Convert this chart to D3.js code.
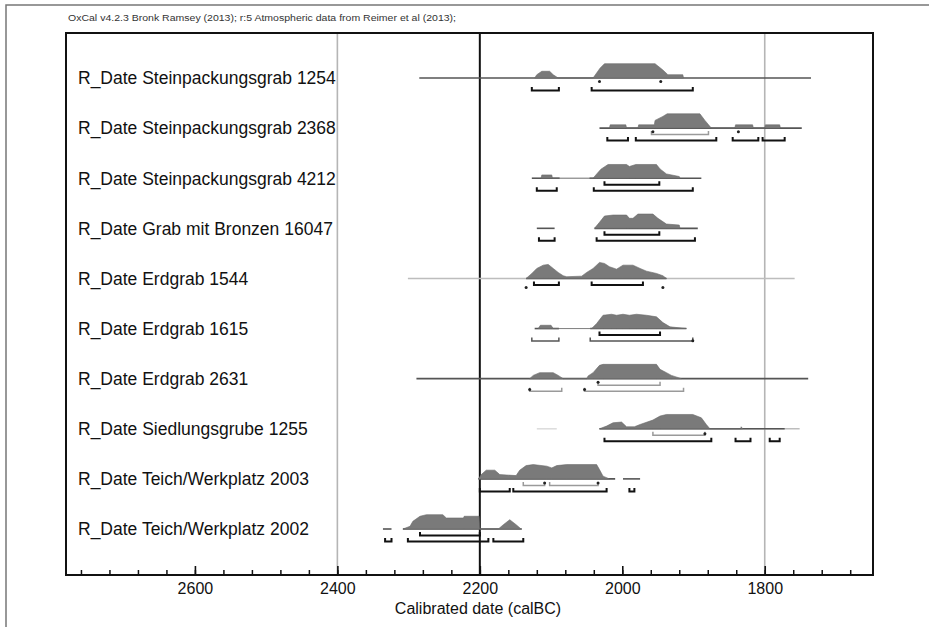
<!DOCTYPE html>
<html><head><meta charset="utf-8">
<script src="https://cdn.jsdelivr.net/npm/d3@7"></script>
<style>
html,body{margin:0;padding:0;background:#fff;}
svg{display:block;font-family:"Liberation Sans",Arial,sans-serif;}
</style></head>
<body>
<svg id="chart" width="929" height="627"></svg>
<script>
// ---------- data ----------
const titleText = "OxCal v4.2.3 Bronk Ramsey (2013); r:5 Atmospheric data from Reimer et al (2013);";
const axisTitle = "Calibrated date (calBC)";
const labels = [
  "R_Date Steinpackungsgrab 1254",
  "R_Date Steinpackungsgrab 2368",
  "R_Date Steinpackungsgrab 4212",
  "R_Date Grab mit Bronzen 16047",
  "R_Date Erdgrab 1544",
  "R_Date Erdgrab 1615",
  "R_Date Erdgrab 2631",
  "R_Date Siedlungsgrube 1255",
  "R_Date Teich/Werkplatz 2003",
  "R_Date Teich/Werkplatz 2002"
];
const majorTicks = [2600, 2400, 2200, 2000, 1800];
const minorTicks = d3.range(2760, 1640, -40);
const gridYears = [{year:2400, tone:"grid"}, {year:2200, tone:"event"}, {year:1800, tone:"grid"}];

// relative probability, [year calBC, prob]
const dens1 = [[2123,0],[2120,23],[2113,47],[2102,47],[2097,23],[2090,0],[2041,0],[2036,35],[2031,70],[2025,100],[1954,100],[1950,84],[1943,56],[1936,23],[1915,23],[1914,0]];
const dens2 = [[2018,0],[2017,23],[1995,23],[1994,0],[1978,0],[1977,23],[1955,23],[1954,54],[1943,82],[1937,100],[1891,100],[1884,54],[1875,0],[1842,0],[1841,23],[1817,23],[1816,0],[1800,0],[1799,23],[1779,23],[1778,0]];
const dens3 = [[2114,0],[2113,23],[2099,23],[2098,0],[2041,0],[2035,35],[2030,63],[2020,96],[1994,96],[1990,82],[1981,96],[1952,96],[1947,65],[1938,30],[1920,12],[1919,0]];
const dens4 = [[2039,0],[2032,42],[2025,86],[2013,93],[1994,93],[1990,70],[1985,70],[1978,100],[1957,100],[1950,70],[1938,30],[1920,23],[1919,0]];
const dens5 = [[2135,0],[2127,35],[2120,70],[2111,93],[2104,98],[2097,70],[2090,42],[2083,19],[2078,12],[2057,16],[2050,42],[2041,70],[2032,112],[2025,105],[2018,82],[2008,65],[1999,93],[1985,93],[1975,70],[1966,51],[1952,35],[1943,19],[1938,0]];
const dens6 = [[2118,0],[2115,23],[2100,23],[2097,0],[2043,0],[2036,35],[2027,93],[2015,100],[2008,93],[1999,100],[1990,93],[1980,100],[1966,93],[1952,82],[1943,42],[1933,12],[1910,0]];
const dens7 = [[2130,0],[2125,23],[2116,42],[2097,42],[2090,23],[2083,0],[2050,0],[2048,19],[2041,42],[2032,93],[2027,100],[1952,100],[1947,65],[1938,42],[1931,23],[1917,0]];
const dens8 = [[2032,0],[2022,19],[2013,42],[2001,47],[1994,14],[1983,14],[1975,30],[1957,61],[1947,89],[1938,100],[1901,100],[1889,77],[1882,30],[1877,0],[1834,0],[1833,14],[1831,0]];
const dens9 = [[2202,0],[2198,30],[2191,61],[2179,61],[2172,30],[2149,23],[2144,61],[2135,93],[2125,100],[2106,89],[2099,77],[2092,93],[2078,100],[2036,100],[2032,65],[2027,19],[2018,0]];
const dens10 = [[2308,0],[2298,19],[2294,54],[2284,89],[2275,100],[2252,100],[2247,77],[2223,77],[2222,89],[2201,89],[2200,0],[2174,0],[2167,30],[2158,65],[2149,30],[2142,0]];
const densities = [dens1,dens2,dens3,dens4,dens5,dens6,dens7,dens8,dens9,dens10];

// baseline segments [from, to, tone]
const baselines = [
  [[2285,1735,"dark"]],
  [[2032,1748,"dark"]],
  [[2127,2088,"dark"],[2046,1889,"dark"]],
  [[2120,2095,"dark"],[2039,1894,"dark"]],
  [[2301,1758,"light"],[2135,1938,"dark"]],
  [[2123,2089,"dark"],[2045,1910,"dark"]],
  [[2289,1739,"dark"]],
  [[2120,2092,"faint"],[2032,1751,"light"],[2032,1772,"dark"]],
  [[2202,2010,"dark"],[1999,1975,"dark"]],
  [[2336,2324,"dark"],[2308,2141,"dark"]]
];

// probability ranges [from, to, level (1 = 68.2%, 2 = 95.4%), tone]
const ranges = [
  [[2127,2089,2,"dark"],[2043,1901,2,"dark"]],
  [[1959,1879,1,"light"],[2021,1992,2,"dark"],[1981,1868,2,"dark"],[1845,1809,2,"dark"],[1803,1772,2,"dark"]],
  [[2025,1948,1,"dark"],[2120,2092,2,"dark"],[2040,1901,2,"dark"]],
  [[2025,1948,1,"dark"],[2117,2095,2,"dark"],[2036,1898,2,"dark"]],
  [[2124,2089,1,"dark"],[2043,1971,1,"dark"]],
  [[2032,1947,1,"dark"],[2127,2089,2,"mid"],[2045,1901,2,"mid"]],
  [[2034,1947,1,"light"],[2130,2085,2,"light"],[2053,1914,2,"light"]],
  [[1957,1884,1,"light"],[2025,1875,2,"dark"],[1841,1820,2,"dark"],[1793,1779,2,"dark"]],
  [[2139,2109,1,"light"],[2102,2034,1,"light"],[2200,2158,2,"dark"],[2153,2022,2,"dark"],[1990,1983,2,"dark"]],
  [[2284,2200,1,"dark"],[2333,2324,2,"dark"],[2301,2188,2,"dark"],[2181,2139,2,"dark"]]
];

// small markers [year, level]
const markers = [
  [[2032,0.7],[1946,0.7]],
  [[1957,0.7],[1837,0.7]],
  [],
  [],
  [[2135,1.6],[1943,1.6]],
  [[1901,2.1]],
  [[2034,0.7],[2130,1.9],[2053,1.9]],
  [[1884,0.9]],
  [[2109,0.8],[2034,0.8]],
  []
];

// ---------- drawing ----------
const svg = d3.select("#chart");
const W = 929, H = 627;
const frame = {left:66, right:873, top:33, bottom:575};

const x = d3.scaleLinear().domain([2781, 1648]).range([frame.left, frame.right]);
const row = d3.scalePoint().domain(labels).range([78, 529]);
const h = d3.scaleLinear().domain([0, 100]).range([0, 14.3]);
const bracketOffset = d3.scaleLinear().domain([0, 1, 2]).range([0, 6.5, 12.5]);

const toneColor = {dark:"#111", mid:"#555", light:"#9a9a9a", faint:"#d6d6d6"};
const baseColor = {dark:"#555", light:"#bdbdbd", faint:"#dddddd"};

// outer border
svg.append("path").attr("d", `M6,${H} V5 H${W}`)
  .attr("fill","none").attr("stroke","#777").attr("stroke-width",1.5);

// title
svg.append("text").attr("x", 68).attr("y", 21)
  .attr("font-size", 8.5).attr("fill","#333")
  .attr("textLength", 388).attr("lengthAdjust","spacingAndGlyphs")
  .text(titleText);

// grid lines
gridYears.forEach(g => {
  svg.append("line")
    .attr("x1", x(g.year)).attr("x2", x(g.year))
    .attr("y1", frame.top).attr("y2", frame.bottom)
    .attr("stroke", g.tone === "event" ? "#111" : "#b5b5b5")
    .attr("stroke-width", g.tone === "event" ? 2 : 1.6);
});

// rows
const area = d3.area()
  .x(d => x(d[0]))
  .y0(0)
  .y1(d => -h(d[1]));

labels.forEach((lab, i) => {
  const g = svg.append("g").attr("transform", `translate(0,${row(lab)})`);
  // baselines
  baselines[i].forEach(s => {
    g.append("line").attr("x1", x(s[0])).attr("x2", x(s[1]))
      .attr("y1", 0).attr("y2", 0)
      .attr("stroke", baseColor[s[2]]).attr("stroke-width", 1.6);
  });
  // density
  g.append("path").datum(densities[i]).attr("d", area)
    .attr("fill", "#7a7a7a").attr("stroke", "#6a6a6a").attr("stroke-width", 0.6);
  // ranges
  ranges[i].forEach(r => {
    const y = bracketOffset(r[2]);
    const x1 = x(r[0]), x2 = x(r[1]);
    g.append("path")
      .attr("d", `M${x1},${y-3.5} V${y} H${x2} V${y-3.5}`)
      .attr("fill","none")
      .attr("stroke", toneColor[r[3]])
      .attr("stroke-width", r[3] === "dark" ? 2 : 1.5);
  });
  // markers
  markers[i].forEach(m => {
    g.append("circle").attr("cx", x(m[0])).attr("cy", bracketOffset(m[1]) - 1)
      .attr("r", 1.5).attr("fill", "#222");
  });
  // label
  svg.append("text").attr("x", 78).attr("y", row(lab))
    .attr("dy", "0.36em").attr("font-size", 17.5).attr("fill", "#111")
    .text(lab);
});

// frame
svg.append("rect").attr("x", frame.left).attr("y", frame.top)
  .attr("width", frame.right - frame.left).attr("height", frame.bottom - frame.top)
  .attr("fill","none").attr("stroke","#111").attr("stroke-width",2);

// axis: minor ticks
const minorAxis = d3.axisBottom(x).tickValues(minorTicks).tickSize(-5).tickFormat("");
svg.append("g").attr("transform", `translate(0,${frame.bottom})`).call(minorAxis)
  .call(g => g.select(".domain").remove())
  .call(g => g.selectAll("line").attr("stroke","#111").attr("stroke-width",1.5));

const majorAxis = d3.axisBottom(x).tickValues(majorTicks).tickSize(-9).tickPadding(8).tickFormat(d3.format("d"));
svg.append("g").attr("transform", `translate(0,${frame.bottom})`).call(majorAxis)
  .call(g => g.select(".domain").remove())
  .call(g => g.selectAll("line").attr("stroke","#111").attr("stroke-width",1.6))
  .call(g => g.selectAll("text").attr("font-size", 16).attr("fill","#111")
    .attr("font-family","Liberation Sans, Arial, sans-serif"));

svg.append("text").attr("x", 478).attr("y", 614)
  .attr("text-anchor","middle").attr("font-size", 16).attr("fill","#111")
  .text(axisTitle);
</script>
</body></html>
